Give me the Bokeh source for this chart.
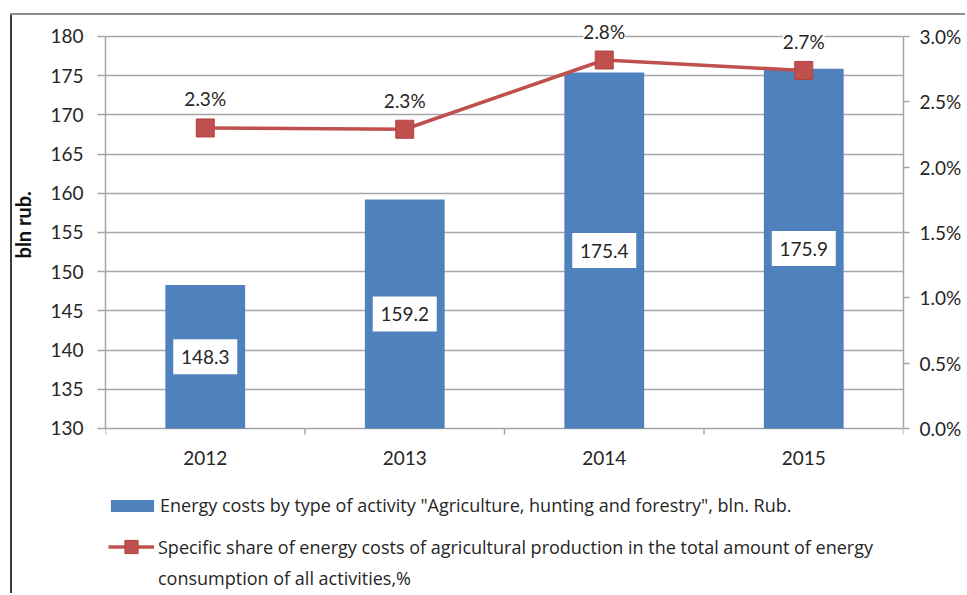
from bokeh.plotting import figure
from bokeh.models import (ColumnDataSource, Range1d, LinearAxis,
                          FixedTicker, PrintfTickFormatter, LabelSet, Legend,
                          LegendItem)
from bokeh.core.properties import value
from bokeh.embed import file_html
from bokeh.resources import INLINE

# ---------------- data ----------------
years = ["2012", "2013", "2014", "2015"]
energy_costs = [148.3, 159.2, 175.4, 175.9]          # bln rub.
energy_share = [2.30, 2.29, 2.82, 2.74]              # %
cost_ticks = [130, 135, 140, 145, 150, 155, 160, 165, 170, 175, 180]
share_ticks = [0.0, 0.5, 1.0, 1.5, 2.0, 2.5, 3.0]
cost_min, cost_max = 130, 180
share_min, share_max = 0.0, 3.0
y_title = "bln rub."
legend_bar = 'Energy costs by type of activity "Agriculture, hunting and forestry", bln. Rub.'
legend_line_1 = "Specific share of energy costs of agricultural production in the total amount of energy"
legend_line_2 = "consumption of all activities,%"

n = len(years)
slot_center = [i + 0.5 for i in range(n)]      # category centres on a 0..n slot axis
slot_edges = list(range(n + 1))                # category boundaries
cost_labels = [f"{v:.1f}" for v in energy_costs]
share_labels = [f"{v:.1f}%" for v in energy_share]

# the frame also holds the category labels and legend below the value area
top_pad = 2.55          # value units above 180
bottom_pad = 21.05      # value units below 130
tick_len = 0.77         # boundary tick length, value units
ratio = (share_max - share_min) / (cost_max - cost_min)

FONT = "Lato"
LEG_FONT = "Open Sans"
TXT = "#262626"
GRID = "#A6A6A6"
BLUE = "#4F81BD"
RED = "#C0504D"

src = ColumnDataSource(dict(
    x=slot_center,
    year=years,
    cost=energy_costs,
    base=[cost_min] * n,
    mid=[(cost_min + c) / 2 for c in energy_costs],
    cost_label=cost_labels,
    share=energy_share,
    share_label=share_labels,
))
edge_src = ColumnDataSource(dict(x=slot_edges, y0=[cost_min] * (n + 1),
                                 y1=[cost_min - tick_len] * (n + 1)))

p = figure(width=965, height=593,
           x_range=Range1d(0, n),
           y_range=Range1d(cost_min - bottom_pad, cost_max + top_pad),
           x_axis_type=None,
           output_backend="svg", toolbar_location=None,
           min_border_left=105, min_border_right=62,
           min_border_top=16, min_border_bottom=0)
p.title.visible = False
p.outline_line_color = None
p.background_fill_color = "white"
p.border_fill_alpha = 0
p.styles = {"background": ("linear-gradient(#8c8c8c, #8c8c8c) 10px 13px / 100% 2px no-repeat, "
                           "linear-gradient(#3a3a3a, #3a3a3a) 10px 13px / 2px 100% no-repeat, #ffffff")}

p.extra_y_ranges = {"pct": Range1d(share_min - bottom_pad * ratio, share_max + top_pad * ratio)}

# left axis (title nudged up to the middle of the 130-180 span)
ya = p.yaxis[0]
ya.ticker = FixedTicker(ticks=cost_ticks)
ya.bounds = (cost_min, cost_max)
ya.axis_line_color = GRID
ya.axis_line_width = 1.5
ya.major_tick_line_color = GRID
ya.major_tick_line_width = 1.5
ya.major_tick_out = 8
ya.major_tick_in = 0
ya.minor_tick_out = 0
ya.minor_tick_in = 0
ya.major_label_standoff = 14
ya.major_label_text_font = FONT
ya.major_label_text_font_size = "19px"
ya.major_label_text_color = TXT
ya.axis_label = "\u00a0" * 33 + y_title
ya.axis_label_text_font = FONT
ya.axis_label_text_font_size = "20px"
ya.axis_label_text_font_style = "bold"
ya.axis_label_text_color = "#111111"
ya.axis_label_standoff = 12

p.ygrid.grid_line_color = GRID
p.ygrid.grid_line_width = 1.5

# right axis
ra = LinearAxis(y_range_name="pct", ticker=FixedTicker(ticks=share_ticks),
                formatter=PrintfTickFormatter(format="%.1f%%"))
ra.bounds = (share_min, share_max)
ra.axis_line_color = GRID
ra.axis_line_width = 1.5
ra.major_tick_line_color = GRID
ra.major_tick_line_width = 1.5
ra.major_tick_out = 6
ra.major_tick_in = 0
ra.minor_tick_out = 0
ra.minor_tick_in = 0
ra.major_label_standoff = 10
ra.major_label_text_font = FONT
ra.major_label_text_font_size = "19px"
ra.major_label_text_color = TXT
p.add_layout(ra, "right")

# category boundary ticks under the 130 line
p.segment(x0="x", y0="y0", x1="x", y1="y1", source=edge_src,
          line_color=GRID, line_width=1.5)

# bars
bars = p.vbar(x="x", top="cost", bottom="base", width=0.4, source=src,
              fill_color=BLUE, line_color=None)

# line + markers
ln = p.line(x="x", y="share", source=src, y_range_name="pct",
            line_color=RED, line_width=3.5)
mk = p.scatter(x="x", y="share", source=src, y_range_name="pct",
               marker="square", size=18, fill_color=RED, line_color="#B3433F",
               line_width=1)

# white boxes behind the bar value labels
p.rect(x="x", y="mid", width=64, height=35, width_units="screen", height_units="screen",
       source=src, fill_color="white", line_color=None)

label_kw = dict(text_font=value(FONT), text_font_size="19px", text_color=TXT,
                text_align="center", text_baseline="middle")

p.add_layout(LabelSet(x="x", y="mid", text="cost_label", source=src, **label_kw))

p.add_layout(LabelSet(x="x", y="share", text="share_label", source=src,
                      y_range_name="pct", y_offset=29, background_fill_color="white",
                      **label_kw))

# category labels
p.add_layout(LabelSet(x="x", y="base", text="year", source=src, y_offset=-30, **label_kw))

# legends
common = dict(orientation="vertical", border_line_color=None, background_fill_alpha=0,
              padding=0, margin=0, spacing=0, label_text_font=LEG_FONT,
              label_text_font_size="18px", label_text_color=TXT)

leg1 = Legend(items=[LegendItem(label=legend_bar, renderers=[bars])],
              location=(0, 76),
              glyph_width=54, glyph_height=15, label_height=15, label_standoff=1,
              **common)
p.add_layout(leg1)

leg2 = Legend(items=[LegendItem(label=legend_line_1, renderers=[ln, mk])],
              location=(3, 30),
              glyph_width=46, glyph_height=33, label_height=33, label_standoff=4,
              **common)
p.add_layout(leg2)

leg3 = Legend(items=[LegendItem(label=legend_line_2, renderers=[ln])],
              location=(53, 3),
              glyph_width=0, glyph_height=1, label_height=15, label_standoff=0,
              **common)
p.add_layout(leg3)

open("out.html", "w").write(file_html(p, INLINE))
